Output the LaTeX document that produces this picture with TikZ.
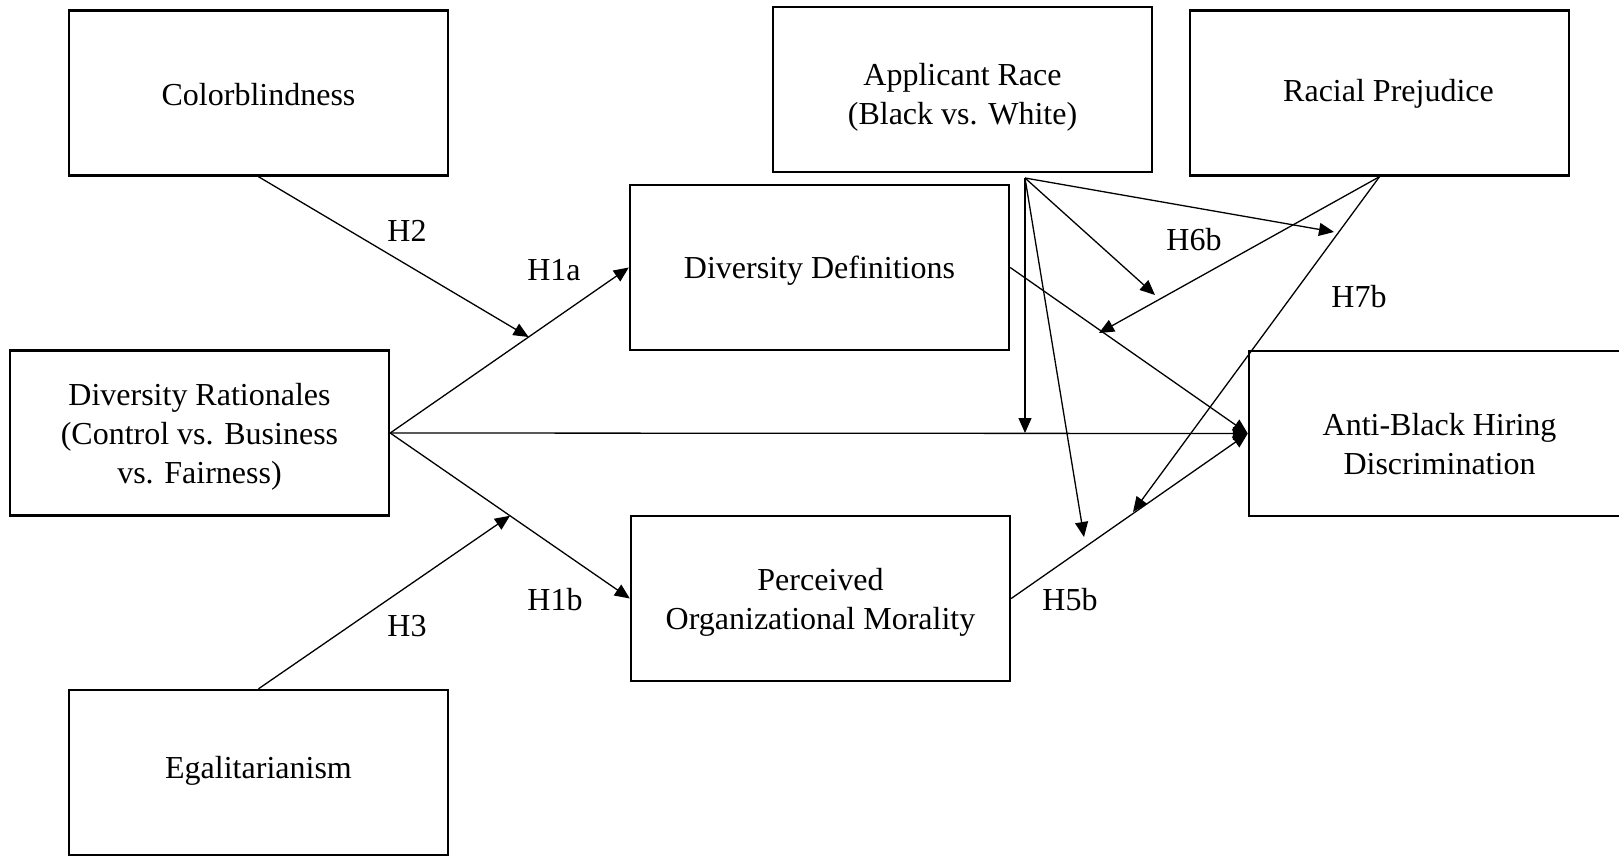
\documentclass[tikz,border=0pt]{standalone}
\usepackage{fontspec}
\setmainfont{Liberation Serif}
\usetikzlibrary{arrows.meta,calc}
\begin{document}
\begin{tikzpicture}[x=1pt,y=-1pt,
  box/.style={draw,line width=2.4pt,minimum width=379pt,minimum height=165pt},
  txt/.style={align=center,inner sep=0pt,font=\fontsize{32}{39}\selectfont},
  arr/.style={line width=1.3pt,-{Triangle[length=15pt,width=13pt]}},
  lab/.style={font=\fontsize{32}{39}\selectfont,inner sep=0pt}]
\useasboundingbox (0,0) rectangle (1619,856);
\node[box,label={[txt,yshift=-2pt]center:Colorblindness}] (color) at (258.5,93) {};
\node[box,label={[txt,yshift=-8pt]center:{Applicant Race\\(Black vs. White)}}] (race) at (962.5,89.5) {};
\node[box,label={[txt,yshift=-1pt,xshift=9pt]center:Racial Prejudice}] (prej) at (1379.5,93) {};
\node[box,label={[txt,yshift=-3pt]center:Diversity Definitions}] (def) at (819.5,267.5) {};
\node[box,label={[txt,yshift=-4pt]center:{Diversity Rationales\\(Control vs. Business\\vs. Fairness)}}] (rat) at (199.5,433) {};
\node[box,label={[txt,yshift=-4pt]center:{Perceived\\Organizational Morality}}] (mor) at (820.5,598.5) {};
\node[box,minimum width=381pt,label={[txt,yshift=-11pt]center:{Anti-Black Hiring\\Discrimination}}] (anti) at (1439.5,433.5) {};
\node[box,label={[txt,yshift=2pt]center:Egalitarianism}] (egal) at (258.5,772.5) {};
% main paths
\draw[arr] (rat.east) -- (def.west);
\draw[arr] (rat.east) -- (mor.west);
\draw[arr] (rat.east) -- (anti.west);
\draw[arr] (def.east) -- (anti.west);
\draw[arr] (mor.east) -- (anti.west);
% moderators
\coordinate (h2t) at ($(rat.east)!0.58!(def.west)$);
\coordinate (h3t) at ($(rat.east)!0.50!(mor.west)$);
\draw[arr] (color.south) -- (h2t);
\draw[arr] (egal.north) -- (h3t);
\coordinate (rs) at (1025,178);
\coordinate (ra1) at (1025,433);
\coordinate (ra2) at (1084,537);
\coordinate (ra3) at (1155,295);
\coordinate (ra4) at (1334,232);
\coordinate (pt1) at (1099,333);
\coordinate (pt2) at (1133,512);
\draw[arr] (rs) -- (ra1);
\draw[arr] (rs) -- (ra2);
\draw[arr] (rs) -- (ra3);
\draw[arr] (rs) -- (ra4);
\draw[arr] (prej.south) -- (pt1);
\draw[arr] (prej.south) -- (pt2);
% labels
\node[lab] (lh2) at (407,231) {H2};
\node[lab] (lh1a) at (554,270) {H1a};
\node[lab] (lh1b) at (555,600) {H1b};
\node[lab] (lh3) at (407,626) {H3};
\node[lab] (lh6b) at (1194,240) {H6b};
\node[lab] (lh7b) at (1359,297) {H7b};
\node[lab] (lh5b) at (1070,600) {H5b};
\end{tikzpicture}
\end{document}
